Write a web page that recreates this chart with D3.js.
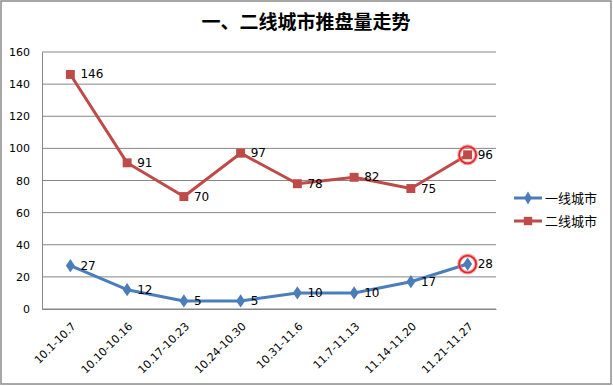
<!DOCTYPE html>
<html>
<head>
<meta charset="utf-8">
<style>
body { margin: 0; background: #fff; }
#chart { display: block; }
.tick text { font-family: "DejaVu Sans", sans-serif; font-size: 11px; fill: #000; }
.lbl { font-family: "DejaVu Sans", sans-serif; font-size: 12px; fill: #000; }
.legend text { font-family: "Noto Sans CJK SC", sans-serif; font-size: 13px; fill: #000; }
</style>
</head>
<body>
<svg id="chart" width="613" height="386"></svg>
<script src="https://cdn.jsdelivr.net/npm/d3@7/dist/d3.min.js"></script>
<script>
// data
var weeks = ["10.1-10.7", "10.10-10.16", "10.17-10.23", "10.24-10.30", "10.31-11.6", "11.7-11.13", "11.14-11.20", "11.21-11.27"];
var tier1 = [27, 12, 5, 5, 10, 10, 17, 28];
var tier2 = [146, 91, 70, 97, 78, 82, 75, 96];
var seriesNames = ["一线城市", "二线城市"];
var yTicks = [0, 20, 40, 60, 80, 100, 120, 140, 160];

var svg = d3.select("#chart");
var plotL = 42, plotR = 496, plotT = 52, plotB = 309;

// outer frame
svg.append("rect")
  .attr("x", 1).attr("y", 1).attr("width", 610).attr("height", 383)
  .attr("fill", "#fff").attr("stroke", "#8c8c8c").attr("stroke-width", 1.5);

svg.append("text")
  .attr("x", 306).attr("y", 29)
  .attr("text-anchor", "middle")
  .style("font-family", "Noto Sans CJK SC, sans-serif")
  .style("font-size", "19px")
  .style("font-weight", "bold")
  .text("一、二线城市推盘量走势");

var x = d3.scaleBand().domain(weeks).range([plotL, plotR]);
var y = d3.scaleLinear().domain([0, 160]).range([plotB, plotT]);

// gridlines
svg.append("g")
  .selectAll("line")
  .data(yTicks)
  .enter().append("line")
  .attr("x1", plotL).attr("x2", plotR)
  .attr("y1", function(d) { return y(d); })
  .attr("y2", function(d) { return y(d); })
  .attr("stroke", "#868686").attr("stroke-width", 1);

var yAxis = svg.append("g")
  .attr("transform", "translate(" + plotL + ",0)")
  .call(d3.axisLeft(y).tickValues(yTicks).tickSize(0).tickPadding(12));
yAxis.select(".domain").attr("stroke", "#868686");

var xAxis = svg.append("g")
  .attr("transform", "translate(0," + plotB + ")")
  .call(d3.axisBottom(x).tickSize(0).tickPadding(0));
xAxis.select(".domain").attr("stroke", "#868686");
xAxis.selectAll(".tick text")
  .attr("text-anchor", "end")
  .attr("y", 0)
  .attr("dy", 0)
  .attr("transform", "translate(6,18) rotate(-45)");

var cx = function(d, i) { return x(weeks[i]) + x.bandwidth() / 2; };

var series = [
  { name: seriesNames[0], values: tier1, color: "#4a7ebb" },
  { name: seriesNames[1], values: tier2, color: "#be4b48" }
];

var line = d3.line()
  .x(function(d, i) { return cx(d, i); })
  .y(function(d) { return y(d); });

series.forEach(function(s, k) {
  svg.append("path")
    .datum(s.values)
    .attr("d", line)
    .attr("fill", "none")
    .attr("stroke", s.color)
    .attr("stroke-width", 3)
    .attr("stroke-linejoin", "round");

  var sym = k === 0 ? d3.symbolDiamond : d3.symbolSquare;
  svg.append("g").selectAll("path")
    .data(s.values)
    .enter().append("path")
    .attr("d", d3.symbol().type(sym).size(k === 0 ? 70 : 80))
    .attr("transform", function(d, i) {
      return "translate(" + cx(d, i) + "," + y(d) + ")" + (k === 0 ? " scale(1,0.85)" : "");
    })
    .attr("fill", s.color);

  svg.append("g").selectAll("text")
    .data(s.values)
    .enter().append("text")
    .attr("class", "lbl")
    .attr("x", function(d, i) { return cx(d, i) + 10; })
    .attr("y", function(d) { return y(d) + 4; })
    .text(function(d) { return d; });
});

// red highlight circles on the last week
var lastIdx = weeks.length - 1;
[tier1[lastIdx], tier2[lastIdx]].forEach(function(v) {
  svg.append("circle")
    .attr("cx", cx(v, lastIdx)).attr("cy", y(v)).attr("r", 8.5)
    .attr("fill", "none")
    .attr("stroke", "#f08080").attr("stroke-width", 4).attr("opacity", 0.6);
  svg.append("circle")
    .attr("cx", cx(v, lastIdx)).attr("cy", y(v)).attr("r", 8.5)
    .attr("fill", "none")
    .attr("stroke", "#e0282c").attr("stroke-width", 1.8);
});

// legend
var legend = svg.append("g").attr("class", "legend");
series.forEach(function(s, k) {
  var ly = 198 + k * 23;
  legend.append("line")
    .attr("x1", 514).attr("x2", 542).attr("y1", ly).attr("y2", ly)
    .attr("stroke", s.color).attr("stroke-width", 3);
  legend.append("path")
    .attr("d", d3.symbol().type(k === 0 ? d3.symbolDiamond : d3.symbolSquare).size(k === 0 ? 50 : 70))
    .attr("transform", "translate(528," + ly + ")")
    .attr("fill", s.color);
  legend.append("text")
    .attr("x", 545).attr("y", ly + 5)
    .text(s.name);
});
</script>
</body>
</html>
